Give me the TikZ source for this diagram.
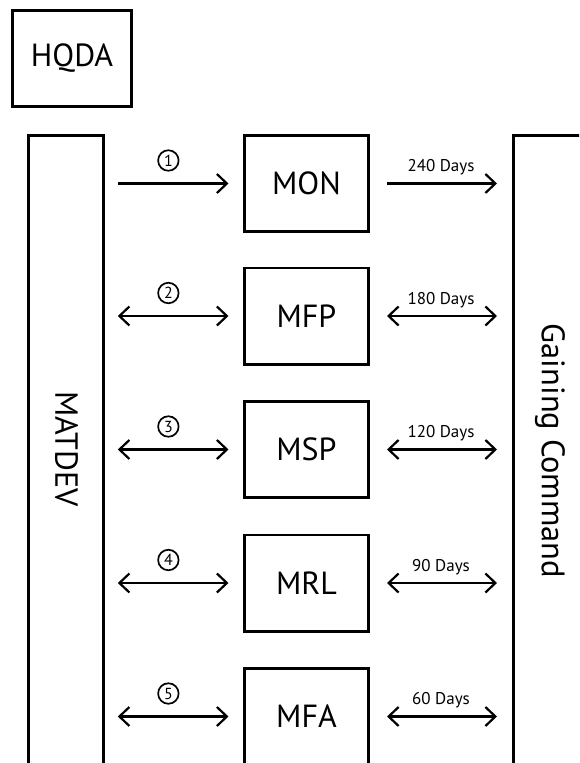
\documentclass[tikz,border=0pt]{standalone}
\usepackage{fontspec}
\setmainfont{PT Sans}
\usetikzlibrary{arrows.meta}
\begin{document}
\begin{tikzpicture}[x=1pt,y=1pt,
  box/.style={draw, line width=2.6pt, inner sep=0pt, font=\fontsize{32}{36}\selectfont},
  midbox/.style={box, minimum width=124.4pt, minimum height=96.4pt},
  tall/.style={box, minimum height=632pt},
  arr/.style={line width=2.2pt, -{Straight Barb[length=10pt,width=19pt]}},
  darr/.style={line width=2.2pt, {Straight Barb[length=10pt,width=19pt]}-{Straight Barb[length=10pt,width=19pt]}},
  num/.style={draw, circle, line width=1.7pt, minimum size=20.5pt, inner sep=0pt, font=\fontsize{16}{18}\selectfont},
  days/.style={font=\fontsize{17}{20}\selectfont},
  lshort/.style={shorten <=13pt, shorten >=14.5pt},
  rshort/.style={shorten <=17pt, shorten >=15pt}
]
\useasboundingbox (0,0) rectangle (579,-763);
\clip (0,0) rectangle (579,-763);
\node[box, minimum width=119pt, minimum height=96pt] (hqda) at (72,-58.5) {HQDA};
\node[tall, minimum width=75pt] (matdev) at (66,-451.3) {};
\node[rotate=-90, font=\fontsize{32}{36}\selectfont] (matdevtxt) at (66.5,-449) {MATDEV};
\node[tall, minimum width=73.4pt] (gc) at (550,-451.3) {};
\node[rotate=-90, font=\fontsize{32.5}{36}\selectfont] (gctxt) at (550,-451) {Gaining Command};
\node[midbox] (mon) at (306.5,-183.5) {MON};
\node[midbox] (mfp) at (306.5,-316) {MFP};
\node[midbox] (msp) at (306.5,-449.5) {MSP};
\node[midbox] (mrl) at (306.5,-583) {MRL};
\node[midbox] (mfa) at (306.5,-716.5) {MFA};
% left connectors
\draw[arr, lshort] (matdev.east |- mon.west) -- (mon.west) node[num, pos=0.46, yshift=23pt] (n1) {1};
\draw[darr, lshort] (matdev.east |- mfp.west) -- (mfp.west) node[num, pos=0.46, yshift=23pt] (n2) {2};
\draw[darr, lshort] (matdev.east |- msp.west) -- (msp.west) node[num, pos=0.46, yshift=23pt] (n3) {3};
\draw[darr, lshort] (matdev.east |- mrl.west) -- (mrl.west) node[num, pos=0.46, yshift=23pt] (n4) {4};
\draw[darr, lshort] (matdev.east |- mfa.west) -- (mfa.west) node[num, pos=0.46, yshift=23pt] (n5) {5};
% right connectors
\draw[arr, rshort] (mon.east) -- (gc.west |- mon.east) node[days, midway, yshift=16pt] (d1) {240 Days};
\draw[darr, rshort] (mfp.east) -- (gc.west |- mfp.east) node[days, midway, yshift=16pt] (d2) {180 Days};
\draw[darr, rshort] (msp.east) -- (gc.west |- msp.east) node[days, midway, yshift=16pt] (d3) {120 Days};
\draw[darr, rshort] (mrl.east) -- (gc.west |- mrl.east) node[days, midway, yshift=16pt] (d4) {90 Days};
\draw[darr, rshort] (mfa.east) -- (gc.west |- mfa.east) node[days, midway, yshift=16pt] (d5) {60 Days};
\end{tikzpicture}
\end{document}
